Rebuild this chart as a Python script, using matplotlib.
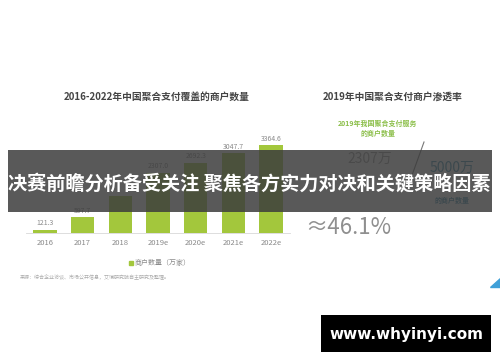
import matplotlib
matplotlib.use('Agg')
import matplotlib.pyplot as plt
from matplotlib.patches import Rectangle, Polygon

plt.rcParams['font.family'] = ['Noto Sans CJK SC', 'DejaVu Sans']

# data
years = ['2016', '2017', '2018', '2019e', '2020e', '2021e', '2022e']
merchants = [121.3, 597.7, 1420.0, 2307.0, 2692.3, 3047.7, 3364.6]
value_labels = ['121.3', '597.7', '', '2307.0', '2692.3', '3047.7', '3364.6']
left_title = '2016-2022年中国聚合支付覆盖的商户数量'
right_title = '2019年中国聚合支付商户渗透率'
legend_label = '商户数量（万家）'
source_note = '来源：综合企业访谈、市场公开信息，艾瑞研究院自主研究及整理。'
served_label = ['2019年我国聚合支付服务', '的商户数量']
served_value = '2307万'
total_value = '5000万'
total_label = '的商户数量'
rate_text = '≈46.1%'
banner = '决赛前瞻分析备受关注 聚焦各方实力对决和关键策略因素'
site = 'www.whyinyi.com'

W, H = 500, 362
bar_green = '#a3c73c'
gray = '#8a8a8a'

fig = plt.figure(figsize=(W / 100, H / 100), dpi=100)
fig.patch.set_facecolor('white')

def fx(px):
    return px / W

def fy(py):
    return 1 - py / H

# bar chart
ax = fig.add_axes([fx(26), fy(233), fx(264), (233 - 128.4) / H])
ax.bar(range(len(years)), merchants, width=0.62, color=bar_green, zorder=2)
for i, (v, lab) in enumerate(zip(merchants, value_labels)):
    if lab:
        ax.text(i, v + 90, lab, ha='center', va='bottom', fontsize=5, color=gray)
ax.set_xlim(-0.5, len(years) - 0.5)
ax.set_ylim(0, 4000)
ax.set_xticks(range(len(years)))
ax.set_xticklabels(years, fontsize=5.5, color=gray)
ax.tick_params(axis='x', length=0, pad=4)
ax.set_yticks([])
for s in ['top', 'right', 'left']:
    ax.spines[s].set_visible(False)
ax.spines['bottom'].set_color('#d8d8d8')
ax.spines['bottom'].set_linewidth(0.6)
ax.set_facecolor('none')

fig.text(fx(157), fy(97), left_title, ha='center', va='center', fontsize=7,
         fontweight='bold', color='#444444')

# legend
fig.patches.append(Rectangle((fx(129), fy(264.5)), fx(4), 4 / H,
                             transform=fig.transFigure, color=bar_green))
fig.text(fx(135), fy(262.5), legend_label, ha='left', va='center', fontsize=5, color=gray)
fig.text(fx(20), fy(277), source_note, ha='left', va='center', fontsize=3.6, color='#aaaaaa')

# right panel
fig.text(fx(393), fy(97), right_title, ha='center', va='center', fontsize=7,
         fontweight='bold', color='#444444')
fig.text(fx(378), fy(123), served_label[0], ha='center', va='center', fontsize=5,
         fontweight='bold', color='#8cbf4a')
fig.text(fx(378), fy(133), served_label[1], ha='center', va='center', fontsize=5,
         fontweight='bold', color='#8cbf4a')
fig.text(fx(370), fy(159), served_value, ha='center', va='center', fontsize=10, color='#999999')
fig.add_artist(plt.Line2D([fx(424), fx(411)], [fy(142), fy(178)], transform=fig.transFigure,
                          color='#777777', lw=0.8))
fig.text(fx(452), fy(168), total_value, ha='center', va='center', fontsize=10, color='#3d8fb0')
fig.text(fx(452), fy(200), total_label, ha='center', va='center', fontsize=5,
         fontweight='bold', color='#3d8fb0')
fig.text(fx(348), fy(227), rate_text, ha='center', va='center', fontsize=16, color='#8f8f8f')

# corner decoration
fig.patches.append(Polygon([(fx(500), fy(278)), (fx(500), fy(287)), (fx(490), fy(287))],
                           closed=True, transform=fig.transFigure, color='#3fa0d8'))

# banner overlay
fig.patches.append(Rectangle((fx(8), fy(212)), fx(484), 62 / H, transform=fig.transFigure,
                             facecolor='#3c3c3c', alpha=0.85, zorder=5))
fig.text(fx(249), fy(183), banner, ha='center', va='center', fontsize=13.8,
         fontweight='bold', color='white', zorder=6)

# watermark
fig.patches.append(Rectangle((fx(321), fy(352)), fx(170), 37 / H, transform=fig.transFigure,
                             facecolor='black', zorder=5))
fig.text(fx(406), fy(334), site, ha='center', va='center', fontsize=11,
         fontweight='bold', color='white', family=['DejaVu Sans'], zorder=6)

fig.savefig('out.png', dpi=100)
